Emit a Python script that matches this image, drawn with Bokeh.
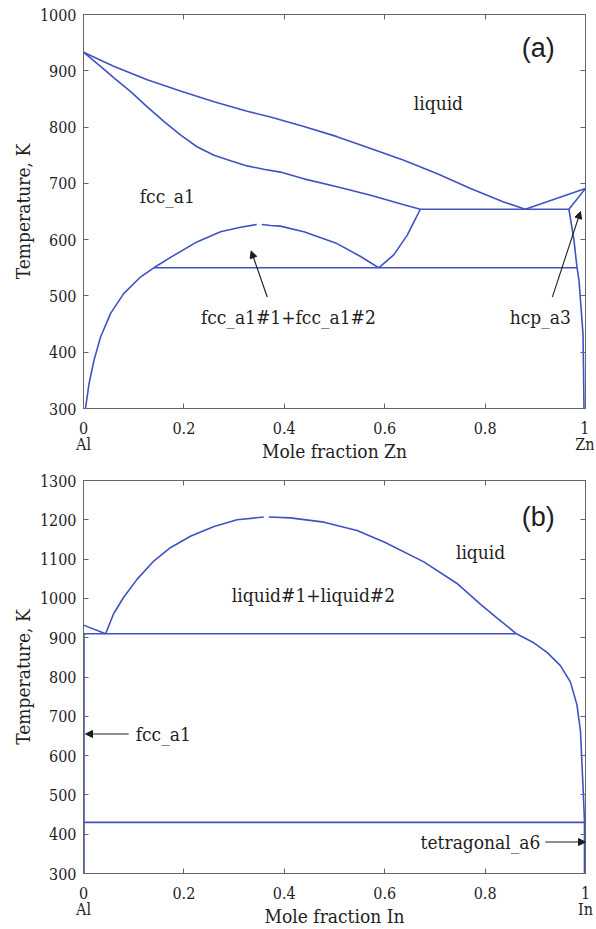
from bokeh.plotting import figure
from bokeh.models import LinearAxis, FixedTicker, Arrow, NormalHead, Label
from bokeh.layouts import column
from bokeh.embed import file_html
from bokeh.resources import INLINE

# ---------------- data: panel (a) Al-Zn ----------------
a_liq_x = [0, 0.060, 0.127, 0.193, 0.260, 0.326, 0.3725, 0.439, 0.505, 0.572, 0.638, 0.705, 0.771, 0.837, 0.880]
a_liq_T = [933, 908, 884, 864, 845, 828, 818, 801, 783, 762, 741, 717, 691, 667, 654]
a_liqzn_x = [0.880, 1.0]
a_liqzn_T = [654, 691]
a_sol_x = [0, 0.034, 0.060, 0.094, 0.127, 0.160, 0.193, 0.226, 0.260, 0.293, 0.326, 0.359, 0.392,
           0.439, 0.505, 0.572, 0.638, 0.671]
a_sol_T = [933, 908, 888, 863, 836, 810, 786, 765, 750, 740, 731, 725, 720, 708, 694, 679, 662, 654]
a_perit_x = [0.671, 0.967]
a_perit_T = [654, 654]
a_hcpliq_x = [0.967, 1.0]
a_hcpliq_T = [654, 691]
a_hcp_x = [0.967, 0.977, 0.983, 0.987, 0.990, 0.995, 0.996, 0.997]
a_hcp_T = [654, 599, 551, 528, 492, 433, 374, 300]
a_eutd_x = [0.140, 0.983]
a_eutd_T = [550, 550]
a_gapL_x = [0.004, 0.011, 0.021, 0.034, 0.054, 0.080, 0.114, 0.140, 0.180, 0.226, 0.273, 0.313, 0.345]
a_gapL_T = [300, 344, 386, 427, 469, 504, 534, 550, 572, 596, 614, 622, 627]
a_gapR_x = [0.355, 0.3725, 0.392, 0.439, 0.505, 0.552, 0.588]
a_gapR_T = [627, 625, 624, 614, 593, 570, 550]
a_fcc2_x = [0.588, 0.618, 0.645, 0.658, 0.671]
a_fcc2_T = [550, 573, 608, 631, 654]

a_text = ["liquid", "fcc_a1", "fcc_a1#1+fcc_a1#2", "hcp_a3"]
a_text_x = [0.707, 0.167, 0.408, 0.91]
a_text_T = [842, 678, 462, 462]
a_arrows = [(0.366, 498, 0.334, 580), (0.934, 498, 0.99, 650)]

# ---------------- data: panel (b) Al-In ----------------
b_liqal_x = [0, 0.044]
b_liqal_T = [932, 910]
b_gapL_x = [0.044, 0.060, 0.080, 0.107, 0.140, 0.173, 0.213, 0.260, 0.306, 0.359]
b_gapL_T = [910, 961, 1003, 1049, 1095, 1129, 1158, 1183, 1200, 1207]
b_gapR_x = [0.369, 0.412, 0.479, 0.545, 0.600, 0.678, 0.744, 0.791, 0.824, 0.8625]
b_gapR_T = [1207, 1205, 1194, 1173, 1143, 1093, 1038, 985, 950, 910]
b_liqin_x = [0.8625, 0.897, 0.924, 0.950, 0.970, 0.983, 0.990, 0.993, 0.996, 0.998]
b_liqin_T = [910, 887, 862, 829, 787, 729, 662, 578, 495, 430]
b_monot_x = [0, 0.8625]
b_monot_T = [910, 910]
b_fcc_x = [0.001, 0.001]
b_fcc_T = [910, 300]
b_eut_x = [0, 0.998]
b_eut_T = [430, 430]
b_tet_x = [0.998, 0.998]
b_tet_T = [430, 300]

b_text = ["liquid", "liquid#1+liquid#2"]
b_text_x = [0.791, 0.458]
b_text_T = [1119, 1008]
b_fcc_label = ("fcc_a1", 0.104, 655)
b_tet_label = ("tetragonal_a6", 0.91, 380)
b_arrows = [(0.09, 655, 0.004, 655), (0.92, 380, 1.0, 380)]

x_ticks = [0, 0.2, 0.4, 0.6, 0.8, 1]
a_y_ticks = [300, 400, 500, 600, 700, 800, 900, 1000]
b_y_ticks = [300, 400, 500, 600, 700, 800, 900, 1000, 1100, 1200, 1300]
a_xlabels = {0: "0\nAl", 0.2: "0.2", 0.4: "0.4", 0.6: "0.6", 0.8: "0.8", 1: "1\nZn"}
b_xlabels = {0: "0\nAl", 0.2: "0.2", 0.4: "0.4", 0.6: "0.6", 0.8: "0.8", 1: "1\nIn"}

LINE = "#3f52c4"
AX = "#666666"
TXT = "#1e1e1e"
SERIF = "DejaVu Serif Condensed, DejaVu Serif"
SANS = "Liberation Sans"


def make_fig(height, ymin, ymax, yticks, xlabels, xlabel, btop, bbottom):
    p = figure(width=594, height=height, x_range=(0, 1), y_range=(ymin, ymax),
               output_backend="svg", toolbar_location=None,
               min_border_left=83, min_border_right=9, min_border_top=btop,
               min_border_bottom=bbottom)
    p.xgrid.grid_line_color = None
    p.ygrid.grid_line_color = None
    p.outline_line_color = AX
    p.background_fill_color = "white"
    p.border_fill_color = "white"
    for ax in (p.xaxis[0], p.yaxis[0]):
        ax.axis_line_color = AX
        ax.major_tick_line_color = AX
        ax.major_tick_in = 5
        ax.major_tick_out = 0
        ax.minor_tick_line_color = None
        ax.major_label_text_font = SERIF
        ax.major_label_text_font_size = "16px"
        ax.major_label_text_color = TXT
        ax.axis_label_text_font = SERIF
        ax.axis_label_text_font_size = "19px"
        ax.axis_label_text_font_style = "normal"
        ax.axis_label_text_color = TXT
    p.xaxis.ticker = FixedTicker(ticks=x_ticks)
    p.xaxis.major_label_overrides = xlabels
    p.xaxis.major_label_standoff = 10
    p.xaxis.major_label_text_line_height = 0.85
    p.xaxis.axis_label = xlabel
    p.xaxis.axis_label_standoff = -17
    p.yaxis.ticker = FixedTicker(ticks=yticks)
    p.yaxis.major_label_standoff = 7
    p.yaxis.axis_label = "Temperature, K"
    p.yaxis.axis_label_standoff = 3
    # tick marks on top and right (no labels)
    top = LinearAxis(ticker=FixedTicker(ticks=x_ticks),
                     major_label_overrides={t: "" for t in x_ticks},
                     major_label_text_font_size="1px",
                     major_label_standoff=0, major_tick_in=5, major_tick_out=0,
                     minor_tick_line_color=None, axis_line_color=AX, major_tick_line_color=AX)
    right = LinearAxis(ticker=FixedTicker(ticks=yticks),
                       major_label_overrides={t: "" for t in yticks},
                       major_label_text_font_size="1px",
                       major_label_standoff=0, major_tick_in=5, major_tick_out=0,
                       minor_tick_line_color=None, axis_line_color=AX, major_tick_line_color=AX)
    p.add_layout(top, "above")
    p.add_layout(right, "right")
    return p


def lbl(p, text, x, y, align="center", font=SERIF, size="19px"):
    p.add_layout(Label(x=x, y=y, text=text, text_align=align, text_baseline="middle",
                       text_font=font, text_font_size=size, text_color=TXT))


def arrow(p, x0, y0, x1, y1):
    p.add_layout(Arrow(end=NormalHead(size=7, fill_color=TXT, line_color=TXT),
                       x_start=x0, y_start=y0, x_end=x1, y_end=y1,
                       line_color=TXT, line_width=1.1))


# ---------------- panel (a) ----------------
pa = make_fig(466, 300, 1000, a_y_ticks, a_xlabels, "Mole fraction Zn", 14, 58)
for xs, ys in [(a_liq_x, a_liq_T), (a_liqzn_x, a_liqzn_T), (a_sol_x, a_sol_T),
               (a_perit_x, a_perit_T), (a_hcpliq_x, a_hcpliq_T), (a_hcp_x, a_hcp_T),
               (a_eutd_x, a_eutd_T), (a_gapL_x, a_gapL_T), (a_gapR_x, a_gapR_T),
               (a_fcc2_x, a_fcc2_T)]:
    pa.line(xs, ys, line_color=LINE, line_width=1.6)
for t, x, y in zip(a_text, a_text_x, a_text_T):
    lbl(pa, t, x, y)
lbl(pa, "(a)", 0.906, 941, font=SANS, size="27px")
for a in a_arrows:
    arrow(pa, *a)

# ---------------- panel (b) ----------------
pb = make_fig(463, 300, 1300, b_y_ticks, b_xlabels, "Mole fraction In", 14, 55)
for xs, ys in [(b_liqal_x, b_liqal_T), (b_gapL_x, b_gapL_T), (b_gapR_x, b_gapR_T),
               (b_liqin_x, b_liqin_T), (b_monot_x, b_monot_T), (b_fcc_x, b_fcc_T),
               (b_eut_x, b_eut_T), (b_tet_x, b_tet_T)]:
    pb.line(xs, ys, line_color=LINE, line_width=1.6)
for t, x, y in zip(b_text, b_text_x, b_text_T):
    lbl(pb, t, x, y)
lbl(pb, b_fcc_label[0], b_fcc_label[1], b_fcc_label[2], align="left")
lbl(pb, b_tet_label[0], b_tet_label[1], b_tet_label[2], align="right")
lbl(pb, "(b)", 0.906, 1207, font=SANS, size="27px")
for a in b_arrows:
    arrow(pb, *a)

layout = column(pa, pb, spacing=0)
open("out.html", "w").write(file_html(layout, INLINE))
